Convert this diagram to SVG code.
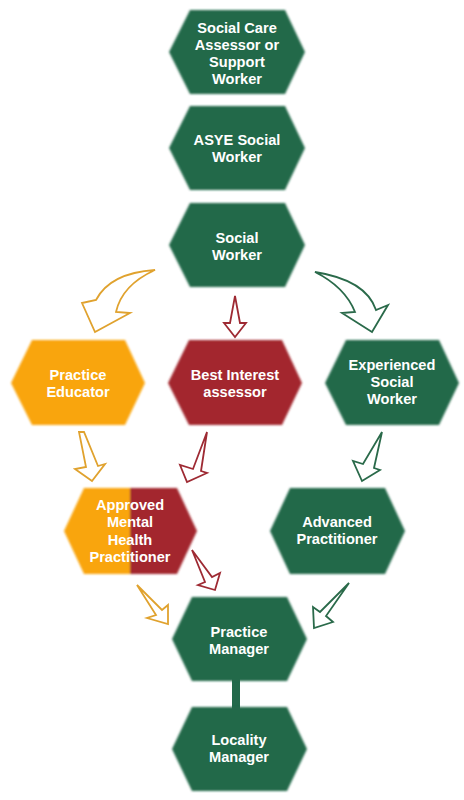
<svg xmlns="http://www.w3.org/2000/svg" width="464" height="800" viewBox="0 0 464 800">
<defs>
<filter id="soft" x="-5%" y="-5%" width="110%" height="110%"><feGaussianBlur stdDeviation="0.9"/></filter>
<clipPath id="leftHalf"><rect x="0" y="480" width="130" height="100"/></clipPath>
<clipPath id="rightHalf"><rect x="130" y="480" width="100" height="100"/></clipPath>
</defs>
<style>
.g{fill:#22694a}
.o{fill:#f9a50d}
.r{fill:#a3262f}
.t{font-family:"Liberation Sans",Arial,sans-serif;font-weight:bold;font-size:14.6px;fill:#ffffff;text-anchor:middle}
.ao{fill:#ffffff;stroke:#e0a22e;stroke-width:1.8;stroke-linejoin:miter}
.ag{fill:#ffffff;stroke:#2a6a4a;stroke-width:1.8;stroke-linejoin:miter}
.ar{fill:#ffffff;stroke:#9e2a33;stroke-width:1.8;stroke-linejoin:miter}
</style>
<g id="connectors">
<path class="ao" d="M155,270 Q110,273 96,300 L82,303 L95,332 L130,313 L116,312 Q122,285 155,270 Z"/>
<path class="ag" d="M315,272 Q366,280 376,310 L388,305 L372,332 L342,313 L355,312 Q345,287 315,272 Z"/>
<path class="ar" d="M235,296 L240,323 L246,323 L235,337 L224,323 L230,323 Z"/>
<path class="ao" d="M79,432 L84,432 L98,466 L105,464 L92,481 L75,469 L86,467 Z"/>
<path class="ar" d="M207,432 L201,471 L207,473 L187,482 L180,465 L193,469 Z"/>
<path class="ag" d="M382,432 L374,468 L380,470 L362,481 L353,461 L363,464 Z"/>
<path class="ar" d="M192,550 L212,577 L220,573 L215,590 L198,585 L205,582 Z"/>
<path class="ao" d="M137,585 L162,610 L168,605 L168,624 L147,618 L156,615 Z"/>
<path class="ag" d="M349,583 L326,616 L333,622 L314,628 L313,607 L320,612 Z"/>
<rect class="g" x="232" y="679" width="8" height="30"/>
</g>
<g id="n1">
<polygon class="g" filter="url(#soft)" points="169,52 190,10 285,10 305,52 285,94 190,94"/>
<text class="t" x="237" y="33">Social Care</text>
<text class="t" x="237" y="50">Assessor or</text>
<text class="t" x="237" y="67">Support</text>
<text class="t" x="237" y="84">Worker</text>
</g>
<g id="n2">
<polygon class="g" filter="url(#soft)" points="169,148 190,106 285,106 305,148 285,190 190,190"/>
<text class="t" x="237" y="145">ASYE Social</text>
<text class="t" x="237" y="162">Worker</text>
</g>
<g id="n3">
<polygon class="g" filter="url(#soft)" points="169,245 190,203 285,203 305,245 285,287 190,287"/>
<text class="t" x="237" y="243">Social</text>
<text class="t" x="237" y="260">Worker</text>
</g>
<g id="n4">
<polygon class="o" filter="url(#soft)" points="11,383 32,340 125,340 145,383 125,425 32,425"/>
<text class="t" x="78" y="380">Practice</text>
<text class="t" x="78" y="397">Educator</text>
</g>
<g id="n5">
<polygon class="r" filter="url(#soft)" points="168,383 189,340 282,340 302,383 282,425 189,425"/>
<text class="t" x="235" y="380">Best Interest</text>
<text class="t" x="235" y="397">assessor</text>
</g>
<g id="n6">
<polygon class="g" filter="url(#soft)" points="325,383 346,340 439,340 459,383 439,425 346,425"/>
<text class="t" x="392" y="370">Experienced</text>
<text class="t" x="392" y="387">Social</text>
<text class="t" x="392" y="404">Worker</text>
</g>
<g id="n7">
<g filter="url(#soft)">
<polygon class="o" clip-path="url(#leftHalf)" points="64,531 84,488 177,488 197,531 177,574 84,574"/>
<polygon class="r" clip-path="url(#rightHalf)" points="64,531 84,488 177,488 197,531 177,574 84,574"/>
</g>
<text class="t" x="130" y="510">Approved</text>
<text class="t" x="130" y="527">Mental</text>
<text class="t" x="130" y="545">Health</text>
<text class="t" x="130" y="562">Practitioner</text>
</g>
<g id="n8">
<polygon class="g" filter="url(#soft)" points="270,531 290,488 385,488 405,531 385,574 290,574"/>
<text class="t" x="337" y="527">Advanced</text>
<text class="t" x="337" y="544">Practitioner</text>
</g>
<g id="n9">
<polygon class="g" filter="url(#soft)" points="172,639 192,597 287,597 307,639 287,681 192,681"/>
<text class="t" x="239" y="637">Practice</text>
<text class="t" x="239" y="654">Manager</text>
</g>
<g id="n10">
<polygon class="g" filter="url(#soft)" points="172,749 192,707 287,707 307,749 287,791 192,791"/>
<text class="t" x="239" y="745">Locality</text>
<text class="t" x="239" y="762">Manager</text>
</g>
</svg>
